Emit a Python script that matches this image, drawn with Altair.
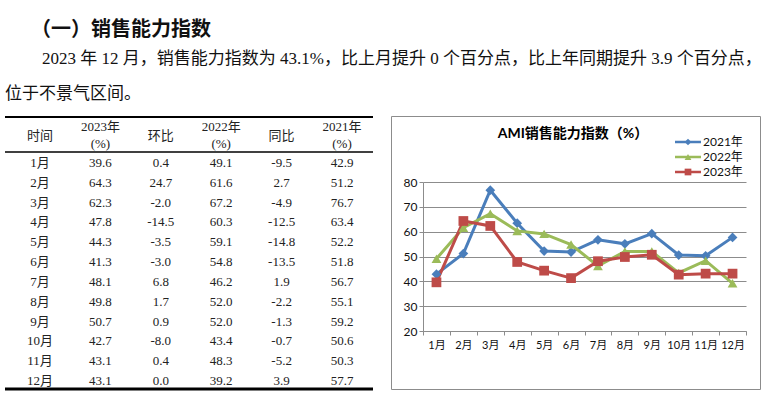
import altair as alt
import pandas as pd

# ---------------- text content ----------------
heading = "（一）销售能力指数"
para_line1 = "2023 年 12 月，销售能力指数为 43.1%，比上月提升 0 个百分点，比上年同期提升 3.9 个百分点，"
para_line2 = "位于不景气区间。"
chart_title = "AMI销售能力指数（%）"

# ---------------- data ----------------
months = ["1月", "2月", "3月", "4月", "5月", "6月", "7月", "8月", "9月", "10月", "11月", "12月"]
col_names = ["时间", "2023年", "环比", "2022年", "同比", "2021年"]
head_single = ["时间", "", "环比", "", "同比", ""]
head_top = ["", "2023年", "", "2022年", "", "2021年"]
head_bottom = ["", "(%)", "", "(%)", "", "(%)"]

idx_2023 = [39.6, 64.3, 62.3, 47.8, 44.3, 41.3, 48.1, 49.8, 50.7, 42.7, 43.1, 43.1]
mom_2023 = [0.4, 24.7, -2.0, -14.5, -3.5, -3.0, 6.8, 1.7, 0.9, -8.0, 0.4, 0.0]
idx_2022 = [49.1, 61.6, 67.2, 60.3, 59.1, 54.8, 46.2, 52.0, 52.0, 43.4, 48.3, 39.2]
yoy_2023 = [-9.5, 2.7, -4.9, -12.5, -14.8, -13.5, 1.9, -2.2, -1.3, -0.7, -5.2, 3.9]
idx_2021 = [42.9, 51.2, 76.7, 63.4, 52.2, 51.8, 56.7, 55.1, 59.2, 50.6, 50.3, 57.7]

series = ["2021年", "2022年", "2023年"]
series_values = [idx_2021, idx_2022, idx_2023]
series_colors = ["#4A7EBB", "#9BBB59", "#BE4B48"]
series_shapes = ["diamond", "triangle-up", "square"]
y_ticks = [20, 30, 40, 50, 60, 70, 80]

SERIF = "Liberation Serif, Noto Sans CJK SC"
SANS = "Lato, Noto Sans CJK SC"
CJK = "Noto Sans CJK SC"

# ---------------- header block ----------------
def text_layer(txt, x, y, size, weight="normal", font=CJK):
    return alt.Chart(pd.DataFrame({"t": [txt]})).mark_text(
        font=font, fontSize=size, fontWeight=weight, align="left",
        baseline="middle", color="#111"
    ).encode(x=alt.value(x), y=alt.value(y), text="t:N")

header = alt.layer(
    text_layer(heading, 31, 30, 20, "bold", CJK),
    text_layer(para_line1, 42, 59, 17, "normal", SERIF),
    text_layer(para_line2, 5, 94, 17, "normal", SERIF),
).properties(width=759, height=115)

# ---------------- table ----------------
rows = []
for i, m in enumerate(months):
    vals = [m, f"{idx_2023[i]:.1f}", f"{mom_2023[i]:.1f}", f"{idx_2022[i]:.1f}",
            f"{yoy_2023[i]:.1f}", f"{idx_2021[i]:.1f}"]
    for c, v in zip(col_names, vals):
        rows.append({"month": m, "col": c, "text": v})
table_df = pd.DataFrame(rows)
head_df = pd.DataFrame({"col": col_names, "single": head_single,
                        "top": head_top, "bottom": head_bottom})

tx = alt.X("col:N", scale=alt.Scale(type="point", domain=col_names, range=[40, 342], padding=0), axis=None)
ty = alt.Y("month:N", scale=alt.Scale(type="point", domain=months, range=[47, 265], padding=0), axis=None)

def tbl_text(data, field, y=None):
    enc = dict(x=tx, text=f"{field}:N")
    enc["y"] = ty if y is None else alt.value(y)
    return alt.Chart(data).mark_text(
        font=SERIF, fontSize=13, color="#222", align="center", baseline="middle"
    ).encode(**enc)

def hrule(y, w):
    return alt.Chart(pd.DataFrame({"k": [0]})).mark_rule(color="#000", strokeWidth=w).encode(
        x=alt.value(5), x2=alt.value(373), y=alt.value(y))

table = alt.layer(
    hrule(1, 2), hrule(36, 1.3), hrule(273, 3),
    tbl_text(head_df, "single", 20),
    tbl_text(head_df, "top", 11),
    tbl_text(head_df, "bottom", 28),
    tbl_text(table_df, "text"),
).properties(width=385, height=280)

# ---------------- line chart ----------------
recs = []
for s, vals in zip(series, series_values):
    for m, v in zip(months, vals):
        recs.append({"series": s, "month": m, "value": v})
line_df = pd.DataFrame(recs)

GRID = "#8c8c8c"
cx = alt.X("month:N", sort=months, bandPosition=0.5,
           scale=alt.Scale(type="band", domain=months, range=[32, 355], paddingInner=0, paddingOuter=0),
           axis=alt.Axis(title=None, orient="bottom", offset=-58, tickBand="extent", labelAngle=0,
                         domainColor=GRID, tickColor=GRID, tickSize=4, labelPadding=4,
                         labelFont=SANS, labelFontSize=11, labelColor="#111", grid=False))
cy = alt.Y("value:Q",
           scale=alt.Scale(domain=[20, 80], range=[215, 66], nice=False, zero=False),
           axis=alt.Axis(title=None, orient="left", offset=-32, values=y_ticks, grid=True,
                         gridColor=GRID, gridWidth=1, domainColor=GRID, tickColor=GRID,
                         tickSize=4, labelPadding=2, labelFont=SANS, labelFontSize=12,
                         labelColor="#111"))
ccol = alt.Color("series:N", scale=alt.Scale(domain=series, range=series_colors), legend=None)
cshape = alt.Shape("series:N", scale=alt.Scale(domain=series, range=series_shapes), legend=None)

lines = alt.Chart(line_df).mark_line(strokeWidth=3).encode(x=cx, y=cy, color=ccol)
points = alt.Chart(line_df).mark_point(filled=True, opacity=1, size=95, strokeWidth=0).encode(
    x=cx, y=cy, color=ccol, shape=cshape)
title_layer = alt.Chart(pd.DataFrame({"t": [chart_title]})).mark_text(
    font=SANS, fontSize=14, fontWeight="bold", color="#000", align="center", baseline="middle"
).encode(x=alt.value(182), y=alt.value(18), text="t:N")

leg_df = pd.DataFrame({"series": series})
ly = alt.Y("series:N", scale=alt.Scale(type="point", domain=series, range=[26, 56], padding=0), axis=None)
leg_rule = alt.Chart(leg_df).mark_rule(strokeWidth=2.5).encode(
    x=alt.value(284), x2=alt.value(310), y=ly, color=ccol)
leg_pt = alt.Chart(leg_df).mark_point(filled=True, opacity=1, size=45, strokeWidth=0).encode(
    x=alt.value(297), y=ly, color=ccol, shape=cshape)
leg_txt = alt.Chart(leg_df).mark_text(
    font=SANS, fontSize=12, color="#111", align="left", baseline="middle"
).encode(x=alt.value(312), y=ly, text="series:N")

line_chart = alt.layer(
    alt.layer(lines, points, title_layer),
    alt.layer(leg_rule, leg_pt, leg_txt),
).resolve_scale(y="independent").properties(
    width=369, height=273,
    view=alt.ViewBackground(stroke=GRID, strokeWidth=1, fill="white"),
)

chart = alt.vconcat(
    header,
    alt.hconcat(table, line_chart, spacing=5),
    spacing=0,
).properties(padding=0, background="white").configure_view(stroke=None)

chart.save("out.html", embed_options={"renderer": "svg", "actions": False})
